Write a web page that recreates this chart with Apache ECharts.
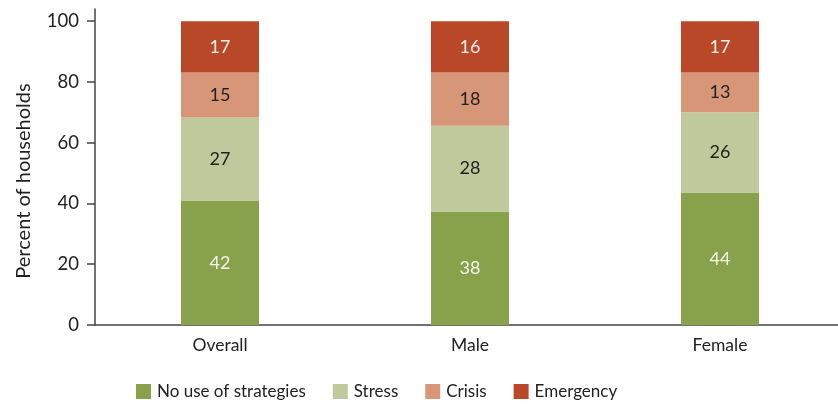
<!DOCTYPE html>
<html>
<head>
<meta charset="utf-8">
<script src="https://cdn.jsdelivr.net/npm/echarts@6/dist/echarts.min.js"></script>
<style>html,body{margin:0;padding:0;background:#fff;overflow:hidden;width:838px;height:407px;}#c{width:845px;height:407px;}</style>
</head>
<body>
<div id="c"></div>
<script>
const categories = ['Overall', 'Male', 'Female'];
const seriesNames = ['No use of strategies', 'Stress', 'Crisis', 'Emergency'];
// bar heights
const noUse = [41.0, 37.3, 43.6];
const stress = [27.3, 28.3, 26.4];
const crisis = [14.8, 17.5, 13.1];
const emergency = [16.9, 16.9, 16.9];
// printed labels
const noUseLabels = [42, 38, 44];
const stressLabels = [27, 28, 26];
const crisisLabels = [15, 18, 13];
const emergencyLabels = [17, 16, 17];
const yTicks = [0, 20, 40, 60, 80, 100];

const colors = ['#87A24A', '#BFC99B', '#D69677', '#B84827'];
const labelColors = ['#F4F4EE', '#222222', '#222222', '#F8F0EC'];
const values = [noUse, stress, crisis, emergency];
const labels = [noUseLabels, stressLabels, crisisLabels, emergencyLabels];
const FONT = 'Lato';

const chart = echarts.init(document.getElementById('c'));
chart.setOption({
  animation: false,
  textStyle: { fontFamily: FONT },
  grid: { left: 95, top: 9, right: 0, bottom: 82 },
  legend: {
    left: 131, top: 378,
    itemWidth: 15, itemHeight: 15, itemGap: 27,
    icon: 'rect',
    textStyle: { fontFamily: FONT, fontSize: 17, color: '#222', padding: [0, 0, 0, 1] },
    data: seriesNames
  },
  xAxis: {
    type: 'category',
    data: categories,
    axisLine: { lineStyle: { color: '#444', width: 1.5 } },
    axisTick: { show: false },
    axisLabel: { fontFamily: FONT, fontSize: 17.5, color: '#222', margin: 11 }
  },
  yAxis: {
    type: 'value',
    min: 0, max: 104, interval: 4,
    name: 'Percent of households',
    nameLocation: 'middle',
    nameGap: 61,
    nameTextStyle: { fontFamily: FONT, fontSize: 20, color: '#222', padding: [0, 0, 0, -28] },
    axisLine: { show: true, lineStyle: { color: '#444', width: 1.5 } },
    axisTick: { show: true, length: 8, customValues: yTicks, lineStyle: { color: '#444', width: 1.5 } },
    axisLabel: { fontFamily: FONT, fontSize: 18.5, color: '#222', margin: 16, customValues: yTicks },
    splitLine: { show: false }
  },
  series: seriesNames.map((name, i) => ({
    name: name,
    type: 'bar',
    stack: 'total',
    barWidth: 78,
    itemStyle: { color: colors[i] },
    label: {
      show: true,
      position: 'inside',
      fontFamily: FONT,
      fontSize: 18,
      color: labelColors[i],
      formatter: p => String(labels[i][p.dataIndex])
    },
    data: values[i]
  }))
});
</script>
</body>
</html>
